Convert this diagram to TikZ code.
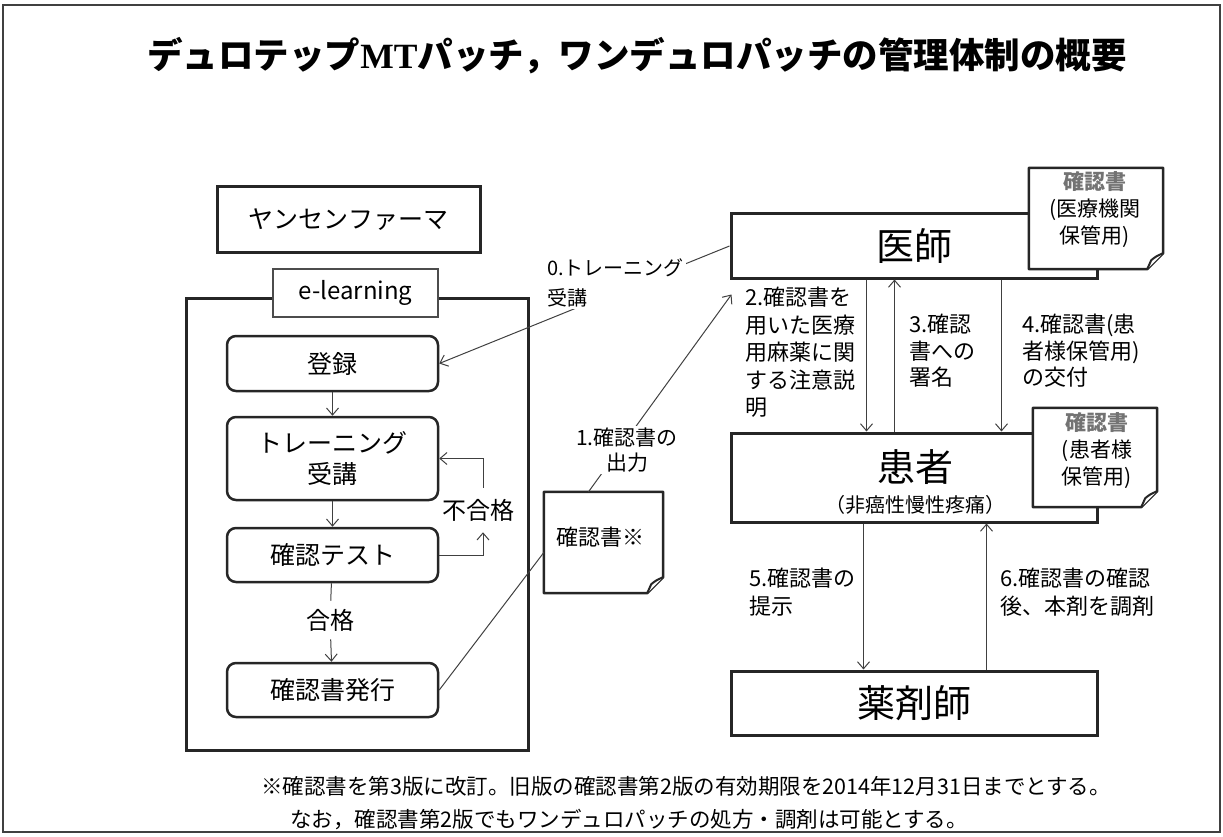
\documentclass[tikz,border=0pt]{standalone}
\usepackage{fontspec}
\setmainfont{Noto Sans CJK JP}
\newfontfamily\serifmt{Liberation Serif}
\usetikzlibrary{arrows.meta,calc}
\tikzset{
 boxthick/.style={draw=black!85, line width=3pt, inner sep=0pt},
 bigbox/.style={boxthick, fill=white, minimum width=366pt, font=\fontsize{38}{40}\selectfont},
 rbox/.style={draw=black!85, line width=2.5pt, rounded corners=9pt, minimum width=211pt, inner sep=0pt, align=center, font=\fontsize{25}{31}\selectfont},
 arr/.style={draw=black!75, line width=1pt, -{Straight Barb[length=7pt,width=12pt]}},
 conn/.style={draw=black!75, line width=1pt},
 lbl/.style={inner sep=0pt, align=left, font=\fontsize{22}{27.5}\selectfont},
 notefr/.style={draw=black!85, line width=2.5pt, fill=white, line join=round},
 foldfr/.style={draw=black!85, line width=2pt, fill=white, line join=round},
 notebox/.style={inner sep=0pt, draw=none},
 notetext/.style={align=center, inner sep=0pt, font=\fontsize{21}{27}\selectfont},
}
\begin{document}
\begin{tikzpicture}[x=1pt,y=-1pt]
\useasboundingbox (0,0) rectangle (1223,837);
\draw[draw=black!75, line width=2pt] (3,5) rectangle (1220,832);

% title
\node[font=\fontsize{35.5}{40}\selectfont\bfseries, inner sep=0pt] (title) at (637,56) {デュロテップ{\serifmt MT}パッチ，ワンデュロパッチの管理体制の概要};

% left column
\node[boxthick, minimum width=263pt, minimum height=65pt, font=\fontsize{25}{30}\selectfont] (janssen) at (348.5,219.5) {ヤンセンファーマ};
\node[boxthick, minimum width=342pt, minimum height=452pt] (elbox) at (357,524) {};
\node[draw=black!70, line width=1.5pt, fill=white, minimum width=165pt, minimum height=48pt, inner sep=0pt, font=\fontsize{24}{28}\selectfont] (elabel) at (355.5,293) {e-learning};

\node[rbox, minimum height=55pt] (reg) at (332.5,363.5) {登録};
\node[rbox, minimum height=83pt] (train) at (332.5,458.5) {トレーニング\\受講};
\node[rbox, minimum height=54pt] (test) at (332.5,555) {確認テスト};
\node[rbox, minimum height=54pt] (issue) at (332.5,690) {確認書発行};
\node[font=\fontsize{24}{28}\selectfont, inner xsep=0pt, inner ysep=11pt] (fail) at (478,510) {不合格};
\node[font=\fontsize{24}{28}\selectfont, inner xsep=0pt, inner ysep=8pt] (pass) at (330,620) {合格};

\draw[arr] (reg) -- (train);
\draw[arr] (train) -- (test);
\draw[conn] (test) -- (pass);
\draw[arr] (pass) -- (issue);
\draw[arr] (test.east) -| ([xshift=5pt]fail.south);
\draw[arr] ([xshift=5pt]fail.north) |- (train.east);

% document 1
\node[notebox, minimum width=119pt, minimum height=101pt] (doc1) at (603.5,542.5) {};
\draw[notefr] (doc1.north west) -- (doc1.north east) -- ([yshift=16pt]doc1.south east) -- ([xshift=-16pt]doc1.south east) -- (doc1.south west) -- cycle;
\draw[foldfr] ([yshift=16pt]doc1.south east) .. controls ([xshift=-7pt,yshift=13pt]doc1.south east) .. ([xshift=-12pt,yshift=9pt]doc1.south east) .. controls ([xshift=-14pt,yshift=5pt]doc1.south east) .. ([xshift=-16pt]doc1.south east);
\node[font=\fontsize{22}{26}\selectfont, inner sep=0pt] (doc1text) at (600,537) {確認書※};

% right column
\node[bigbox, minimum height=64pt] (doctor) at (914,246) {医師};
\node[notebox, minimum width=134pt, minimum height=101pt] (note1) at (1096,218.5) {};
\draw[notefr] (note1.north west) -- (note1.north east) -- ([yshift=16pt]note1.south east) -- ([xshift=-16pt]note1.south east) -- (note1.south west) -- cycle;
\draw[foldfr] ([yshift=16pt]note1.south east) .. controls ([xshift=-7pt,yshift=13pt]note1.south east) .. ([xshift=-12pt,yshift=9pt]note1.south east) .. controls ([xshift=-14pt,yshift=5pt]note1.south east) .. ([xshift=-16pt]note1.south east);
\node[notetext] (note1text) at (1095,210) {{\bfseries\color{black!55}確認書}\\(医療機関\\保管用)};

\node[bigbox, minimum height=89pt] (patient) at (914,477.5) {};
\node[font=\fontsize{38}{40}\selectfont, inner sep=0pt] (patientname) at (915,467) {患者};
\node[font=\fontsize{20}{24}\selectfont, inner sep=0pt] (patientsub) at (915,505) {（非癌性慢性疼痛）};
\node[notebox, minimum width=124pt, minimum height=99pt] (note2) at (1095,457.5) {};
\draw[notefr] (note2.north west) -- (note2.north east) -- ([yshift=16pt]note2.south east) -- ([xshift=-16pt]note2.south east) -- (note2.south west) -- cycle;
\draw[foldfr] ([yshift=16pt]note2.south east) .. controls ([xshift=-7pt,yshift=13pt]note2.south east) .. ([xshift=-12pt,yshift=9pt]note2.south east) .. controls ([xshift=-14pt,yshift=5pt]note2.south east) .. ([xshift=-16pt]note2.south east);
\node[notetext] (note2text) at (1097,451) {{\bfseries\color{black!55}確認書}\\(患者様\\保管用)};

\node[bigbox, minimum height=64pt] (pharm) at (914,703) {薬剤師};

% arrows doctor / patient / pharmacist
\draw[arr] ([xshift=137pt]doctor.south west) -- ([xshift=137pt]patient.north west);
\draw[arr] ([xshift=165pt]patient.north west) -- ([xshift=165pt]doctor.south west);
\draw[arr] ([xshift=272pt]doctor.south west) -- ([xshift=272pt]patient.north west);
\draw[arr] ([xshift=134pt]patient.south west) -- ([xshift=134pt]pharm.north west);
\draw[arr] ([xshift=257pt]pharm.north west) -- ([xshift=257pt]patient.south west);

% cross connectors
\draw[arr] (doctor.west) -- (reg.east);
\draw[conn] (issue.east) -- ([yshift=-10pt]doc1.west);
\coordinate (docarrow) at ([xshift=2pt,yshift=-15pt]doctor.south west);
\draw[arr] ([xshift=-15pt]doc1.north) -- (docarrow);

% labels
\node[lbl, fill=white, inner sep=2pt, anchor=west, font=\fontsize{20}{30}\selectfont] (l0) at (545,283) {0.トレーニング\\受講};
\node[lbl, fill=white, inner sep=2pt, align=center, font=\fontsize{21}{25}\selectfont] (l1) at (627,450) {1.確認書の\\出力};
\node[lbl, anchor=north west] (l2) at (745,287) {2.確認書を\\用いた医療\\用麻薬に関\\する注意説\\明};
\node[lbl, anchor=north west, font=\fontsize{22}{26.5}\selectfont] (l3) at (909,314) {3.確認\\書への\\署名};
\node[lbl, anchor=north west, font=\fontsize{22}{26.5}\selectfont] (l4) at (1022,314) {4.確認書(患\\者様保管用)\\の交付};
\node[lbl, anchor=north west, font=\fontsize{22}{28}\selectfont] (l5) at (749,568) {5.確認書の\\提示};
\node[lbl, anchor=north west, font=\fontsize{22}{28}\selectfont] (l6) at (1000,568) {6.確認書の確認\\後、本剤を調剤};

% footnote
\node[anchor=west, align=left, inner sep=0pt, font=\fontsize{21.5}{33}\selectfont] (foot) at (261,803.5) {※確認書を第3版に改訂。旧版の確認書第2版の有効期限を2014年12月31日までとする。\\\hspace{29pt}なお，確認書第2版でもワンデュロパッチの処方・調剤は可能とする。};
\end{tikzpicture}
\end{document}
